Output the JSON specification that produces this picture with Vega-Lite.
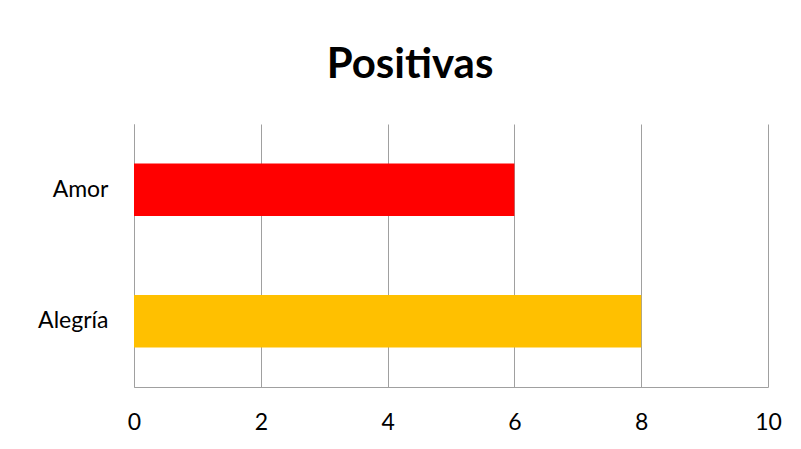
{
  "$schema": "https://vega.github.io/schema/vega-lite/v6.json",
  "width": 634,
  "height": 263,
  "autosize": {"type": "none"},
  "padding": {"left": 134, "top": 124, "right": 33, "bottom": 62},
  "background": "#ffffff",
  "config": {
    "view": {"stroke": null},
    "font": "Lato"
  },
  "title": {
    "text": "Positivas",
    "font": "Lato",
    "fontSize": 42,
    "fontWeight": "bold",
    "color": "#000000",
    "anchor": "middle",
    "dx": -41,
    "baseline": "alphabetic",
    "offset": 4
  },
  "data": {
    "values": [
      {"emocion": "Amor", "valor": 6},
      {"emocion": "Alegría", "valor": 8}
    ]
  },
  "mark": {"type": "bar"},
  "encoding": {
    "y": {
      "field": "emocion",
      "type": "nominal",
      "sort": null,
      "scale": {"paddingInner": 0.6, "paddingOuter": 0.3},
      "axis": {
        "title": null,
        "ticks": false,
        "domain": true,
        "domainColor": "#a0a0a0",
        "domainWidth": 1,
        "labelFont": "Lato",
        "labelFontSize": 23,
        "labelColor": "#000000",
        "labelPadding": 26
      }
    },
    "x": {
      "field": "valor",
      "type": "quantitative",
      "scale": {"domain": [0, 10]},
      "axis": {
        "title": null,
        "values": [0, 2, 4, 6, 8, 10],
        "ticks": false,
        "grid": true,
        "gridColor": "#a0a0a0",
        "gridWidth": 1,
        "domainColor": "#a0a0a0",
        "labelFont": "Lato",
        "labelFontSize": 23,
        "labelColor": "#000000",
        "labelPadding": 24,
        "labelBaseline": "top",
        "labelFlush": false
      }
    },
    "color": {
      "field": "emocion",
      "type": "nominal",
      "scale": {"domain": ["Amor", "Alegría"], "range": ["#ff0000", "#ffc000"]},
      "legend": null
    }
  }
}
